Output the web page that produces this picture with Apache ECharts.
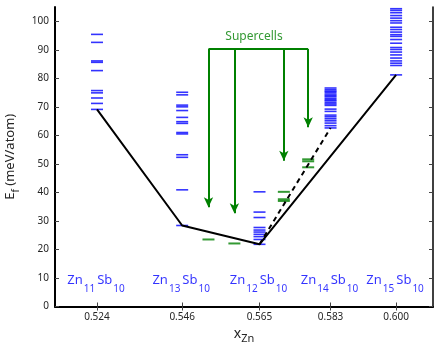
<!DOCTYPE html>
<html><head><meta charset="utf-8">
<script src="https://cdn.jsdelivr.net/npm/echarts@6/dist/echarts.min.js"></script>
<style>html,body{margin:0;padding:0;background:#fff}#c{width:434px;height:343px}</style>
</head><body><div id="c"></div>
<script>
// ---- data ----
const compX = [0.5238, 0.5455, 0.5652, 0.5833, 0.6000];
const tickLabels = ['0.524', '0.546', '0.565', '0.583', '0.600'];
const yTicks = [0, 10, 20, 30, 40, 50, 60, 70, 80, 90, 100];
const compSubs = [['11', '10'], ['13', '10'], ['12', '10'], ['14', '10'], ['15', '10']];
const levelsZn11 = [95.4, 92.6, 86.1, 85.6, 82.7, 75.7, 74.9, 73.1, 71.2, 69.1];
const levelsZn13 = [75.1, 74.2, 70.6, 70.0, 68.7, 66.3, 64.8, 64.2, 61.0, 60.5, 53.2, 52.3, 40.9, 28.4];
const levelsZn12 = [40.2, 33.1, 31.2, 27.7, 26.8, 26.1, 25.3, 24.5, 23.5, 21.8];
const levelsZn14 = [76.6, 76.0, 75.5, 75.1, 74.5, 74.0, 73.6, 73.0, 72.5, 72.1, 71.5, 71.0, 70.5, 69.2, 68.4, 67.1, 66.5, 65.8, 65.1, 64.3, 63.4, 62.6];
const levelsZn15 = [105.3, 104.4, 103.8, 103.0, 102.0, 101.1, 100.2, 99.4, 97.9, 97.1, 96.2, 95.3, 94.7, 93.6, 92.3, 90.8, 90.1, 89.2, 88.2, 87.1, 86.1, 85.3, 84.5, 81.2];
const allLevels = [levelsZn11, levelsZn13, levelsZn12, levelsZn14, levelsZn15];
const superX = [0.5522, 0.5588, 0.5714, 0.5776];
const superLevels = [[23.5], [22.1], [40.2, 37.6, 37.0], [51.6, 50.9, 48.8]];
const arrowTop = 90.3;
const arrowTips = [34.8, 32.7, 51.1, 62.8];
const hullX = [0.5238, 0.5455, 0.5652, 0.6000];
const hullY = [69.1, 28.4, 21.8, 81.2];
const dashedX = [0.5652, 0.5833];
const dashedY = [21.8, 62.6];
const labelY = 6.0;
const superLabelPos = [0.5638, 94.6];

// ---- build ----
const FONT = 'Noto Sans';
const blueData = [];
allLevels.forEach((lv, i) => lv.forEach(v => blueData.push([compX[i], v])));
const greenData = [];
superLevels.forEach((lv, i) => lv.forEach(v => greenData.push([superX[i], v])));
const labelData = compX.map((x, i) => ({ value: [x, labelY], subs: compSubs[i] }));
const arrowLines = superX.map((x, i) => [{ coord: [x, arrowTop] }, { coord: [x, arrowTips[i]] }]);
const tickFmt = v => { const i = compX.findIndex(c => Math.abs(c - v) < 1e-6); return i >= 0 ? tickLabels[i] : ''; };

const chart = echarts.init(document.getElementById('c'), null, { renderer: 'canvas' });
chart.setOption({
  animation: false,
  textStyle: { fontFamily: FONT },
  grid: { left: 55, right: 1, top: 7, bottom: 36.5, containLabel: false, outerBoundsMode: 'none' },
  xAxis: [{
    type: 'value', min: 0.5131, max: 0.6094, position: 'bottom',
    axisLine: { show: true, lineStyle: { color: '#000', width: 2 } },
    axisTick: { show: true, inside: true, length: 4, customValues: compX, lineStyle: { color: '#444' } },
    axisLabel: { customValues: compX, formatter: tickFmt, fontSize: 10, color: '#262626', margin: 6, fontFamily: FONT },
    splitLine: { show: false },
    name: '{x|x}{s|Zn}', nameLocation: 'middle', nameGap: 18,
    nameTextStyle: { rich: {
      x: { fontSize: 14, lineHeight: 14, verticalAlign: 'top', color: '#262626', fontFamily: FONT },
      s: { fontSize: 11, lineHeight: 22, color: '#262626', fontFamily: FONT }
    } }
  }, {
    type: 'value', min: 0.5131, max: 0.6094, position: 'top',
    axisLine: { show: true, lineStyle: { color: '#000', width: 1.5 } },
    axisTick: { show: true, inside: true, length: 4, customValues: compX, lineStyle: { color: '#444' } },
    axisLabel: { show: false }, splitLine: { show: false }
  }],
  yAxis: [{
    type: 'value', min: 0, max: 105, position: 'left',
    axisLine: { show: true, lineStyle: { color: '#000', width: 2 } },
    axisTick: { show: true, inside: true, length: 4, customValues: yTicks, lineStyle: { color: '#444' } },
    axisLabel: { customValues: yTicks, fontSize: 10, color: '#262626', margin: 6, fontFamily: FONT },
    splitLine: { show: false },
    name: '{e|E}{f|f}{e| (meV/atom)}', nameLocation: 'middle', nameRotate: 90, nameGap: 24,
    nameTextStyle: { rich: {
      e: { fontSize: 13, lineHeight: 14, verticalAlign: 'top', color: '#262626', fontFamily: FONT },
      f: { fontSize: 10, lineHeight: 24, color: '#262626', fontFamily: FONT }
    } }
  }, {
    type: 'value', min: 0, max: 105, position: 'right',
    axisLine: { show: true, lineStyle: { color: '#000', width: 1.5 } },
    axisTick: { show: true, inside: true, length: 4, customValues: yTicks, lineStyle: { color: '#444' } },
    axisLabel: { show: false }, splitLine: { show: false }
  }],
  series: [
    { type: 'scatter', name: 'levels', data: blueData, symbol: 'rect', symbolSize: [12, 1.6],
      itemStyle: { color: '#0000ff' }, silent: true, z: 2 },
    { type: 'scatter', name: 'supercells', data: greenData, symbol: 'rect', symbolSize: [12, 2],
      itemStyle: { color: '#008000' }, silent: true, z: 2 },
    { type: 'line', name: 'hull', data: hullX.map((x, i) => [x, hullY[i]]), symbol: 'none',
      lineStyle: { color: '#000', width: 2 }, silent: true, z: 4 },
    { type: 'line', name: 'dashed', data: dashedX.map((x, i) => [x, dashedY[i]]), symbol: 'none',
      lineStyle: { color: '#000', width: 2, type: [5, 4] }, silent: true, z: 4 },
    { type: 'line', name: 'bar', data: [[superX[0], arrowTop], [superX[3], arrowTop]], symbol: 'none',
      lineStyle: { color: '#008000', width: 2 }, silent: true, z: 3,
      markLine: { silent: true, symbol: ['none', 'arrow'], symbolSize: [7, 10], label: { show: false },
        lineStyle: { color: '#008000', width: 2, type: 'solid' }, emphasis: { disabled: true }, data: arrowLines } },
    { type: 'scatter', name: 'complabels', data: labelData, symbolSize: 0, silent: true, z: 5,
      label: { show: true, position: 'inside',
        formatter: p => '{n|Zn}{s|' + p.data.subs[0] + '}{n|Sb}{s|' + p.data.subs[1] + '}',
        rich: {
          n: { fontSize: 13, lineHeight: 14, verticalAlign: 'top', color: '#0000ff', fontFamily: FONT },
          s: { fontSize: 10, lineHeight: 32, color: '#0000ff', fontFamily: FONT, padding: [0, 2, 0, 1] }
        } } },
    { type: 'scatter', name: 'superlabel', data: [superLabelPos], symbolSize: 0, silent: true, z: 5,
      label: { show: true, position: 'inside', formatter: 'Supercells', fontSize: 12, color: '#008000', fontFamily: FONT } }
  ]
});
</script></body></html>
